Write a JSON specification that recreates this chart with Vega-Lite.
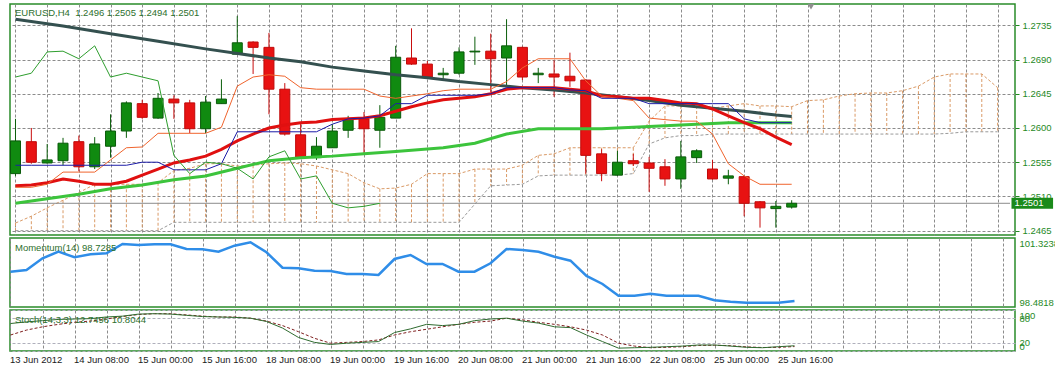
{
  "$schema": "https://vega.github.io/schema/vega-lite/v6.json",
  "padding": {"left": 8, "top": 3, "right": 0, "bottom": 0},
  "background": "white",
  "bounds": "flush",
  "spacing": 3,
  "config": {
    "view": {"stroke": "#2a8c2a", "strokeWidth": 1.5},
    "axis": {"labelFont": "Liberation Sans", "labelFontSize": 9.5, "labelOverlap": false},
    "text": {"font": "Liberation Sans", "fontSize": 9.5},
    "title": {"font": "Liberation Sans", "fontSize": 9.5, "fontWeight": "normal", "color": "#2d6f2d", "anchor": "start", "frame": "group", "orient": "top", "dx": 5}
  },
  "datasets": {
    "k": [
      {"i":0,"o":1.2540,"h":1.2612,"l":1.2537,"c":1.2583,"m1":1.2743,"m2":1.2524,"m3":1.2501,"tk":1.2522,"kj":1.2551,"ch":1.2667,"mo":99.936,"sk":67,"sd":39},
      {"i":1,"o":1.2582,"h":1.2600,"l":1.2553,"c":1.2555,"m2":1.2525,"tk":1.2522,"kj":1.2551,"ch":1.2672,"mo":100.006,"sk":71,"sd":51},
      {"i":2,"o":1.2554,"h":1.2579,"l":1.2553,"c":1.2558,"m2":1.2528,"m3":1.2507,"tk":1.2526,"kj":1.2551,"ch":1.2700,"mo":100.488,"sk":74,"sd":59},
      {"i":3,"o":1.2557,"h":1.2587,"l":1.2551,"c":1.2580,"m1":1.2734,"m2":1.2533,"tk":1.2542,"kj":1.2551,"ch":1.2701,"mo":100.760,"sk":77,"sd":65},
      {"i":4,"o":1.2582,"h":1.2590,"l":1.2543,"c":1.2549,"m2":1.2530,"m3":1.2513,"tk":1.2542,"kj":1.2551,"ch":1.2691,"mo":100.529,"sk":78,"sd":70},
      {"i":5,"o":1.2549,"h":1.2588,"l":1.2546,"c":1.2579,"m2":1.2526,"tk":1.2542,"kj":1.2551,"ch":1.2708,"mo":100.653,"sk":79,"sd":73},
      {"i":6,"o":1.2576,"h":1.2618,"l":1.2561,"c":1.2596,"m1":1.2724,"m2":1.2526,"m3":1.2520,"tk":1.2558,"kj":1.2551,"ch":1.2667,"mo":100.694,"sk":83,"sd":78},
      {"i":7,"o":1.2596,"h":1.2635,"l":1.2587,"c":1.2633,"m2":1.2530,"tk":1.2574,"kj":1.2551,"ch":1.2672,"mo":101.077,"sk":85,"sd":84},
      {"i":8,"o":1.2632,"h":1.2637,"l":1.2612,"c":1.2614,"m2":1.2538,"m3":1.2525,"tk":1.2575,"kj":1.2555,"ch":1.2667,"mo":101.036,"sk":90,"sd":89},
      {"i":9,"o":1.2613,"h":1.2646,"l":1.2612,"c":1.2639,"m1":1.2714,"m2":1.2546,"tk":1.2593,"kj":1.2555,"ch":1.2662,"mo":101.064,"sk":91,"sd":91},
      {"i":10,"o":1.2638,"h":1.2643,"l":1.2612,"c":1.2633,"m2":1.2554,"m3":1.2532,"tk":1.2593,"kj":1.2545,"ch":1.2564,"mo":101.064,"sk":90,"sd":91},
      {"i":11,"o":1.2633,"h":1.2637,"l":1.2593,"c":1.2599,"m2":1.2558,"tk":1.2593,"kj":1.2545,"ch":1.2540,"mo":100.871,"sk":87,"sd":88},
      {"i":12,"o":1.2599,"h":1.2642,"l":1.2593,"c":1.2634,"m1":1.2704,"m2":1.2563,"m3":1.2537,"tk":1.2593,"kj":1.2545,"ch":1.2555,"mo":100.858,"sk":84,"sd":85},
      {"i":13,"o":1.2632,"h":1.2664,"l":1.2632,"c":1.2638,"m2":1.2572,"tk":1.2601,"kj":1.2553,"ch":1.2553,"mo":100.760,"sk":83,"sd":83},
      {"i":14,"o":1.2697,"h":1.2747,"l":1.2697,"c":1.2712,"m2":1.2583,"m3":1.2547,"tk":1.2655,"kj":1.2595,"ch":1.2547,"mo":101.007,"sk":82,"sd":83},
      {"i":15,"o":1.2713,"h":1.2714,"l":1.2671,"c":1.2706,"m2":1.2592,"tk":1.2667,"kj":1.2595,"ch":1.2533,"mo":101.147,"sk":80,"sd":80},
      {"i":16,"o":1.2706,"h":1.2725,"l":1.2618,"c":1.2651,"m1":1.2692,"m2":1.2600,"m3":1.2557,"tk":1.2670,"kj":1.2595,"ch":1.2562,"mo":100.735,"sk":72,"sd":73},
      {"i":17,"o":1.2651,"h":1.2659,"l":1.2590,"c":1.2592,"m2":1.2604,"tk":1.2668,"kj":1.2595,"ch":1.2570,"mo":100.101,"sk":56,"sd":62},
      {"i":18,"o":1.2591,"h":1.2607,"l":1.2560,"c":1.2561,"m1":1.2687,"m2":1.2607,"m3":1.2561,"tk":1.2653,"kj":1.2595,"ch":1.2533,"mo":100.076,"sk":33,"sd":47},
      {"i":19,"o":1.2561,"h":1.2588,"l":1.2558,"c":1.2576,"m2":1.2608,"tk":1.2651,"kj":1.2595,"ch":1.2537,"mo":99.977,"sk":21,"sd":31},
      {"i":20,"o":1.2574,"h":1.2605,"l":1.2574,"c":1.2596,"m1":1.2680,"m2":1.2611,"m3":1.2563,"tk":1.2651,"kj":1.2605,"ch":1.2501,"mo":99.965,"sk":16,"sd":19},
      {"i":21,"o":1.2597,"h":1.2616,"l":1.2587,"c":1.2612,"m2":1.2612,"tk":1.2651,"kj":1.2612,"ch":1.2495,"mo":99.841,"sk":19,"sd":21},
      {"i":22,"o":1.2612,"h":1.2621,"l":1.2567,"c":1.2599,"m1":1.2675,"m2":1.2613,"m3":1.2566,"tk":1.2651,"kj":1.2613,"ch":1.2497,"mo":99.841,"sk":21,"sd":23},
      {"i":23,"o":1.2597,"h":1.2630,"l":1.2574,"c":1.2614,"m2":1.2616,"tk":1.2642,"kj":1.2616,"ch":1.2501,"mo":99.800,"sk":23,"sd":27},
      {"i":24,"o":1.2613,"h":1.2708,"l":1.2613,"c":1.2693,"m1":1.2670,"m2":1.2622,"m3":1.2569,"tk":1.2639,"kj":1.2632,"mo":100.459,"sk":45,"sd":39},
      {"i":25,"o":1.2692,"h":1.2731,"l":1.2683,"c":1.2684,"m2":1.2628,"tk":1.2642,"kj":1.2632,"mo":100.624,"sk":54,"sd":47},
      {"i":26,"o":1.2684,"h":1.2688,"l":1.2666,"c":1.2667,"m1":1.2666,"m2":1.2633,"tk":1.2645,"kj":1.2643,"mo":100.253,"sk":65,"sd":53},
      {"i":27,"o":1.2670,"h":1.2679,"l":1.2664,"c":1.2672,"m2":1.2637,"m3":1.2574,"tk":1.2649,"kj":1.2643,"mo":100.253,"sk":62,"sd":59},
      {"i":28,"o":1.2672,"h":1.2706,"l":1.2670,"c":1.2700,"m1":1.2661,"m2":1.2639,"tk":1.2651,"kj":1.2643,"mo":99.936,"sk":65,"sd":65},
      {"i":29,"o":1.2700,"h":1.2720,"l":1.2683,"c":1.2701,"m2":1.2641,"m3":1.2580,"tk":1.2651,"kj":1.2643,"mo":99.936,"sk":74,"sd":70},
      {"i":30,"o":1.2701,"h":1.2724,"l":1.2647,"c":1.2691,"m1":1.2657,"m2":1.2645,"tk":1.2651,"kj":1.2645,"mo":100.282,"sk":78,"sd":73},
      {"i":31,"o":1.2692,"h":1.2743,"l":1.2654,"c":1.2708,"m2":1.2651,"m3":1.2592,"tk":1.2661,"kj":1.2653,"mo":100.871,"sk":80,"sd":80},
      {"i":32,"o":1.2706,"h":1.2707,"l":1.2663,"c":1.2667,"m1":1.2653,"m2":1.2653,"tk":1.2679,"kj":1.2653,"mo":100.830,"sk":73,"sd":76},
      {"i":33,"o":1.2670,"h":1.2679,"l":1.2659,"c":1.2672,"m2":1.2653,"m3":1.2599,"tk":1.2691,"kj":1.2653,"mo":100.760,"sk":68,"sd":70},
      {"i":34,"o":1.2671,"h":1.2689,"l":1.2641,"c":1.2667,"m1":1.2650,"m2":1.2653,"tk":1.2691,"kj":1.2653,"mo":100.554,"sk":59,"sd":65},
      {"i":35,"o":1.2668,"h":1.2699,"l":1.2654,"c":1.2662,"m2":1.2651,"m3":1.2599,"tk":1.2691,"kj":1.2650,"mo":100.389,"sk":57,"sd":59},
      {"i":36,"o":1.2663,"h":1.2664,"l":1.2540,"c":1.2564,"m1":1.2646,"m2":1.2649,"tk":1.2662,"kj":1.2649,"mo":99.759,"sk":39,"sd":51},
      {"i":37,"o":1.2566,"h":1.2572,"l":1.2530,"c":1.2540,"m2":1.2642,"m3":1.2599,"tk":1.2642,"kj":1.2639,"mo":99.429,"sk":23,"sd":39},
      {"i":38,"o":1.2538,"h":1.2570,"l":1.2537,"c":1.2555,"m1":1.2641,"m2":1.2641,"tk":1.2639,"kj":1.2639,"mo":98.947,"sk":7,"sd":19},
      {"i":39,"o":1.2557,"h":1.2566,"l":1.2550,"c":1.2553,"m2":1.2639,"tk":1.2636,"kj":1.2639,"mo":98.947,"sk":8,"sd":12},
      {"i":40,"o":1.2554,"h":1.2562,"l":1.2516,"c":1.2547,"m1":1.2636,"m2":1.2639,"tk":1.2613,"kj":1.2632,"mo":99.030,"sk":9,"sd":8},
      {"i":41,"o":1.2549,"h":1.2559,"l":1.2524,"c":1.2533,"m2":1.2636,"m3":1.2603,"tk":1.2611,"kj":1.2632,"mo":98.947,"sk":10.5,"sd":9},
      {"i":42,"o":1.2533,"h":1.2583,"l":1.2520,"c":1.2562,"m1":1.2630,"m2":1.2633,"tk":1.2609,"kj":1.2632,"mo":98.947,"sk":12,"sd":10.5},
      {"i":43,"o":1.2561,"h":1.2572,"l":1.2554,"c":1.2570,"m2":1.2632,"m3":1.2605,"tk":1.2609,"kj":1.2632,"mo":98.947,"sk":14.6,"sd":13.5},
      {"i":44,"o":1.2546,"h":1.2558,"l":1.2532,"c":1.2533,"m1":1.2626,"m2":1.2625,"tk":1.2592,"kj":1.2632,"mo":98.758,"sk":14.6,"sd":14},
      {"i":45,"o":1.2534,"h":1.2545,"l":1.2526,"c":1.2537,"m2":1.2616,"m3":1.2607,"tk":1.2553,"kj":1.2632,"mo":98.700,"sk":12,"sd":13},
      {"i":46,"o":1.2536,"h":1.2537,"l":1.2484,"c":1.2501,"m1":1.2622,"m2":1.2607,"tk":1.2537,"kj":1.2612,"mo":98.659,"sk":9,"sd":10},
      {"i":47,"o":1.2503,"h":1.2504,"l":1.2469,"c":1.2495,"m2":1.2599,"m3":1.2607,"tk":1.2526,"kj":1.2607,"mo":98.659,"sk":8,"sd":8.5},
      {"i":48,"o":1.2494,"h":1.2504,"l":1.2469,"c":1.2497,"m1":1.2617,"m2":1.2588,"tk":1.2526,"kj":1.2607,"mo":98.659,"sk":10.5,"sd":9},
      {"i":49,"o":1.2496,"h":1.2505,"l":1.2494,"c":1.2501,"m1":1.2615,"m2":1.2578,"m3":1.2607,"tk":1.2526,"kj":1.2607,"mo":98.7285,"sk":12.7496,"sd":10.8044}
    ],
    "cl": [
      {"i":0,"a":1.2475,"b":1.2465},{"i":1,"a":1.2484,"b":1.2465},{"i":2,"a":1.2495,"b":1.2465},{"i":3,"a":1.2505,"b":1.2465},
      {"i":4,"a":1.2515,"b":1.2465},{"i":5,"a":1.2526,"b":1.2465},{"i":6,"a":1.2526,"b":1.2465},{"i":7,"a":1.2526,"b":1.2465},
      {"i":8,"a":1.2526,"b":1.2465},{"i":9,"a":1.2528,"b":1.2465},{"i":10,"a":1.2544,"b":1.2476},{"i":11,"a":1.2547,"b":1.2476},
      {"i":12,"a":1.2553,"b":1.2476},{"i":13,"a":1.2553,"b":1.2476},{"i":14,"a":1.2550,"b":1.2476},{"i":15,"a":1.2551,"b":1.2476},
      {"i":16,"a":1.2553,"b":1.2476},{"i":17,"a":1.2554,"b":1.2476},{"i":18,"a":1.2553,"b":1.2476},{"i":19,"a":1.2550,"b":1.2476},
      {"i":20,"a":1.2545,"b":1.2476},{"i":21,"a":1.2540,"b":1.2476},{"i":22,"a":1.2528,"b":1.2476},{"i":23,"a":1.2520,"b":1.2476},
      {"i":24,"a":1.2521,"b":1.2476},{"i":25,"a":1.2526,"b":1.2476},{"i":26,"a":1.2540,"b":1.2476},{"i":27,"a":1.2540,"b":1.2476},
      {"i":28,"a":1.2540,"b":1.2476},{"i":29,"a":1.2546,"b":1.2500},{"i":30,"a":1.2546,"b":1.2524},{"i":31,"a":1.2546,"b":1.2525},
      {"i":32,"a":1.2551,"b":1.2526},{"i":33,"a":1.2564,"b":1.2537},{"i":34,"a":1.2566,"b":1.2538},{"i":35,"a":1.2574,"b":1.2538},
      {"i":36,"a":1.2574,"b":1.2538},{"i":37,"a":1.2574,"b":1.2538},{"i":38,"a":1.2574,"b":1.2538},{"i":39,"a":1.2574,"b":1.2540},
      {"i":40,"a":1.2609,"b":1.2579},{"i":41,"a":1.2629,"b":1.2587},{"i":42,"a":1.2629,"b":1.2590},{"i":43,"a":1.2629,"b":1.2590},
      {"i":44,"a":1.2626,"b":1.2592},{"i":45,"a":1.2629,"b":1.2592},{"i":46,"a":1.2632,"b":1.2592},{"i":47,"a":1.2629,"b":1.2592},
      {"i":48,"a":1.2629,"b":1.2592},{"i":49,"a":1.2628,"b":1.2592},{"i":50,"a":1.2636,"b":1.2592},{"i":51,"a":1.2637,"b":1.2592},
      {"i":52,"a":1.2642,"b":1.2592},{"i":53,"a":1.2645,"b":1.2592},{"i":54,"a":1.2646,"b":1.2592},{"i":55,"a":1.2646,"b":1.2592},
      {"i":56,"a":1.2649,"b":1.2592},{"i":57,"a":1.2655,"b":1.2592},{"i":58,"a":1.2667,"b":1.2592},{"i":59,"a":1.2671,"b":1.2593},
      {"i":60,"a":1.2671,"b":1.2595},{"i":61,"a":1.2671,"b":1.2595},{"i":62,"a":1.2653,"b":1.2595}
    ]
  },
  "vconcat": [
    {
      "width": 1005,
      "height": 231,
      "title": {"text": "EURUSD,H4 \u00a01.2496 1.2505 1.2494 1.2501", "offset": -13.5},
      "encoding": {
        "x": {"field": "i", "type": "quantitative", "title": null,
          "scale": {"domain": [-0.03125, 62.78125], "nice": false, "zero": false},
          "axis": {"values": [0,2,4,6,8,10,12,14,16,18,20,22,24,26,28,30,32,34,36,38,40,42,44,46,48,50,52,54,56,58,60,62],
            "tickCount": 100, "grid": true, "gridColor": "#8c8c8c", "gridDash": [3,2], "labels": false, "ticks": false, "domain": false}}
      },
      "layer": [
        {
          "data": {"name": "cl"},
          "mark": {"type": "rule", "color": "#DA9A66", "strokeWidth": 1, "strokeDash": [3,2], "clip": true},
          "encoding": {
            "y": {"field": "a", "type": "quantitative", "title": null,
              "scale": {"domain": [1.24593, 1.2763], "nice": false, "zero": false},
              "axis": {"orient": "right", "values": [1.2465,1.2510,1.2555,1.2600,1.2645,1.2690,1.2735], "tickCount": 100, "format": ".4f",
                "labelColor": "#1f8a1f", "tickColor": "#1f8a1f", "tickSize": 4, "labelPadding": 3, "domain": false,
                "grid": true, "gridColor": "#8c8c8c", "gridDash": [3,2], "labelOverlap": false}},
            "y2": {"field": "b"}
          }
        },
        {
          "data": {"name": "cl"},
          "mark": {"type": "line", "color": "#DA9A66", "strokeWidth": 1, "strokeDash": [3,2], "clip": true},
          "encoding": {"y": {"field": "a", "type": "quantitative", "title": null}}
        },
        {
          "data": {"name": "cl"},
          "mark": {"type": "line", "color": "#9a9a9a", "strokeWidth": 1, "strokeDash": [3,2], "clip": true},
          "encoding": {"y": {"field": "b", "type": "quantitative", "title": null}}
        },
        {
          "data": {"name": "k"},
          "transform": [{"filter": "datum.i == 49"}],
          "mark": {"type": "rule", "color": "#8c8c8c", "strokeWidth": 1, "clip": true},
          "encoding": {
            "x": {"datum": -0.03125},
            "x2": {"datum": 62.78125},
            "y": {"field": "c", "type": "quantitative", "title": null}
          }
        },
        {
          "data": {"name": "k"},
          "mark": {"type": "rule", "strokeWidth": 1, "clip": true},
          "encoding": {
            "y": {"field": "l", "type": "quantitative", "title": null},
            "y2": {"field": "h"},
            "color": {"condition": {"test": "datum.c >= datum.o", "value": "#0b5e0b"}, "value": "#c80e0e"}
          }
        },
        {
          "data": {"name": "k"},
          "mark": {"type": "bar", "orient": "vertical", "size": 10, "strokeWidth": 1, "clip": true},
          "encoding": {
            "y": {"field": "o", "type": "quantitative", "title": null},
            "y2": {"field": "c"},
            "fill": {"condition": {"test": "datum.c >= datum.o", "value": "#108a10"}, "value": "#e81212"},
            "stroke": {"condition": {"test": "datum.c >= datum.o", "value": "#0a5a0a"}, "value": "#c00a0a"}
          }
        },
        {
          "data": {"name": "k"},
          "transform": [{"filter": "isValid(datum.m3)"}],
          "mark": {"type": "line", "color": "#3cc43c", "strokeWidth": 3, "clip": true},
          "encoding": {"y": {"field": "m3", "type": "quantitative", "title": null}}
        },
        {
          "data": {"name": "k"},
          "transform": [{"filter": "isValid(datum.m1)"}],
          "mark": {"type": "line", "color": "#34504f", "strokeWidth": 3, "clip": true},
          "encoding": {"y": {"field": "m1", "type": "quantitative", "title": null}}
        },
        {
          "data": {"name": "k"},
          "transform": [{"filter": "isValid(datum.m2)"}],
          "mark": {"type": "line", "color": "#e01010", "strokeWidth": 3, "clip": true},
          "encoding": {"y": {"field": "m2", "type": "quantitative", "title": null}}
        },
        {
          "data": {"name": "k"},
          "transform": [{"filter": "isValid(datum.tk)"}],
          "mark": {"type": "line", "color": "#f0642d", "strokeWidth": 1, "clip": true},
          "encoding": {"y": {"field": "tk", "type": "quantitative", "title": null}}
        },
        {
          "data": {"name": "k"},
          "transform": [{"filter": "isValid(datum.kj)"}],
          "mark": {"type": "line", "color": "#1c1ca8", "strokeWidth": 1, "clip": true},
          "encoding": {"y": {"field": "kj", "type": "quantitative", "title": null}}
        },
        {
          "data": {"name": "k"},
          "transform": [{"filter": "isValid(datum.ch)"}],
          "mark": {"type": "line", "color": "#2e9e2e", "strokeWidth": 1, "clip": true},
          "encoding": {"y": {"field": "ch", "type": "quantitative", "title": null}}
        },
        {
          "data": {"name": "k"},
          "transform": [{"filter": "datum.i == 49"}],
          "mark": {"type": "rect", "color": "#1a8a1a", "yOffset": -5.5, "y2Offset": 5.5},
          "encoding": {
            "x": {"datum": 62.875},
            "x2": {"datum": 65.5},
            "y": {"field": "c", "type": "quantitative", "title": null},
            "y2": {"field": "c"}
          }
        },
        {
          "data": {"name": "k"},
          "transform": [{"filter": "datum.i == 49"}],
          "mark": {"type": "text", "align": "left", "baseline": "middle", "dx": 3, "color": "white"},
          "encoding": {
            "x": {"datum": 62.875},
            "y": {"field": "c", "type": "quantitative", "title": null},
            "text": {"field": "c", "format": ".4f"}
          }
        },
        {
          "data": {"name": "k"},
          "transform": [{"filter": "datum.i == 49"}],
          "mark": {"type": "point", "shape": "triangle-down", "filled": true, "color": "#8f8f8f", "size": 45, "opacity": 1},
          "encoding": {
            "x": {"datum": 50.22},
            "y": {"datum": 1.27595}
          }
        }
      ]
    },
    {
      "width": 1005,
      "height": 69,
      "title": {"text": "Momentum(14) 98.7285", "offset": -14.5},
      "encoding": {
        "x": {"field": "i", "type": "quantitative", "title": null,
          "scale": {"domain": [-0.03125, 62.78125], "nice": false, "zero": false},
          "axis": {"values": [0,2,4,6,8,10,12,14,16,18,20,22,24,26,28,30,32,34,36,38,40,42,44,46,48,50,52,54,56,58,60,62],
            "tickCount": 100, "grid": true, "gridColor": "#8c8c8c", "gridDash": [3,2], "labels": false, "ticks": false, "domain": false}}
      },
      "layer": [
        {
          "data": {"name": "k"},
          "mark": {"type": "line", "color": "#2f8de8", "strokeWidth": 2.5, "clip": true},
          "encoding": {
            "y": {"field": "mo", "type": "quantitative", "title": null,
              "scale": {"domain": [98.4818, 101.3238], "nice": false, "zero": false},
              "axis": {"orient": "right", "values": [98.4818, 101.3238], "tickCount": 100, "format": ".4f", "labelColor": "#1f8a1f",
                "ticks": false, "labelPadding": 4, "domain": false, "grid": false, "labelOverlap": false,
                "labelBaseline": {"condition": {"test": "datum.value > 100", "value": "top"}, "value": "bottom"}}}
          }
        }
      ]
    },
    {
      "width": 1005,
      "height": 41,
      "title": {"text": "Stoch(14,3,3) 12.7496 10.8044", "offset": -14.5},
      "encoding": {
        "x": {"field": "i", "type": "quantitative", "title": null,
          "scale": {"domain": [-0.03125, 62.78125], "nice": false, "zero": false},
          "axis": {"values": [0,2,4,6,8,10,12,14,16,18,20,22,24,26,28,30,32,34,36,38,40,42,44,46,48,50,52,54,56,58,60,62],
            "tickCount": 100, "grid": true, "gridColor": "#8c8c8c", "gridDash": [3,2], "ticks": false, "domain": false,
            "labelAlign": "left", "labelBaseline": "top", "labelPadding": 3, "labelOffset": -1, "labelColor": "#1a1a1a",
            "labelFlush": false, "labelOverlap": false,
            "labelExpr": "datum.value % 4 == 0 && datum.value <= 48 ? ['13 Jun 2012','14 Jun 08:00','15 Jun 00:00','15 Jun 16:00','18 Jun 08:00','19 Jun 00:00','19 Jun 16:00','20 Jun 08:00','21 Jun 00:00','21 Jun 16:00','22 Jun 08:00','25 Jun 00:00','25 Jun 16:00'][datum.value / 4] : ''"}}
      },
      "layer": [
        {
          "data": {"name": "k"},
          "mark": {"type": "line", "color": "#802020", "strokeWidth": 1, "strokeDash": [3,2], "clip": true},
          "encoding": {
            "y": {"field": "sd", "type": "quantitative", "title": null,
              "scale": {"domain": [0, 100], "nice": false, "zero": false},
              "axis": {"orient": "right", "values": [0, 20, 80, 100], "tickCount": 100, "format": "d", "labelColor": "#1f8a1f",
                "ticks": false, "labelPadding": 4, "domain": false, "grid": true, "gridColor": "#b0b0bc", "gridDash": [3,2],
                "labelOverlap": false,
                "labelBaseline": {"condition": [{"test": "datum.value == 100", "value": "top"}, {"test": "datum.value == 0", "value": "bottom"}], "value": "middle"}}}
          }
        },
        {
          "data": {"name": "k"},
          "mark": {"type": "line", "color": "#2f6b2f", "strokeWidth": 1, "clip": true},
          "encoding": {"y": {"field": "sk", "type": "quantitative", "title": null}}
        }
      ]
    }
  ]
}
